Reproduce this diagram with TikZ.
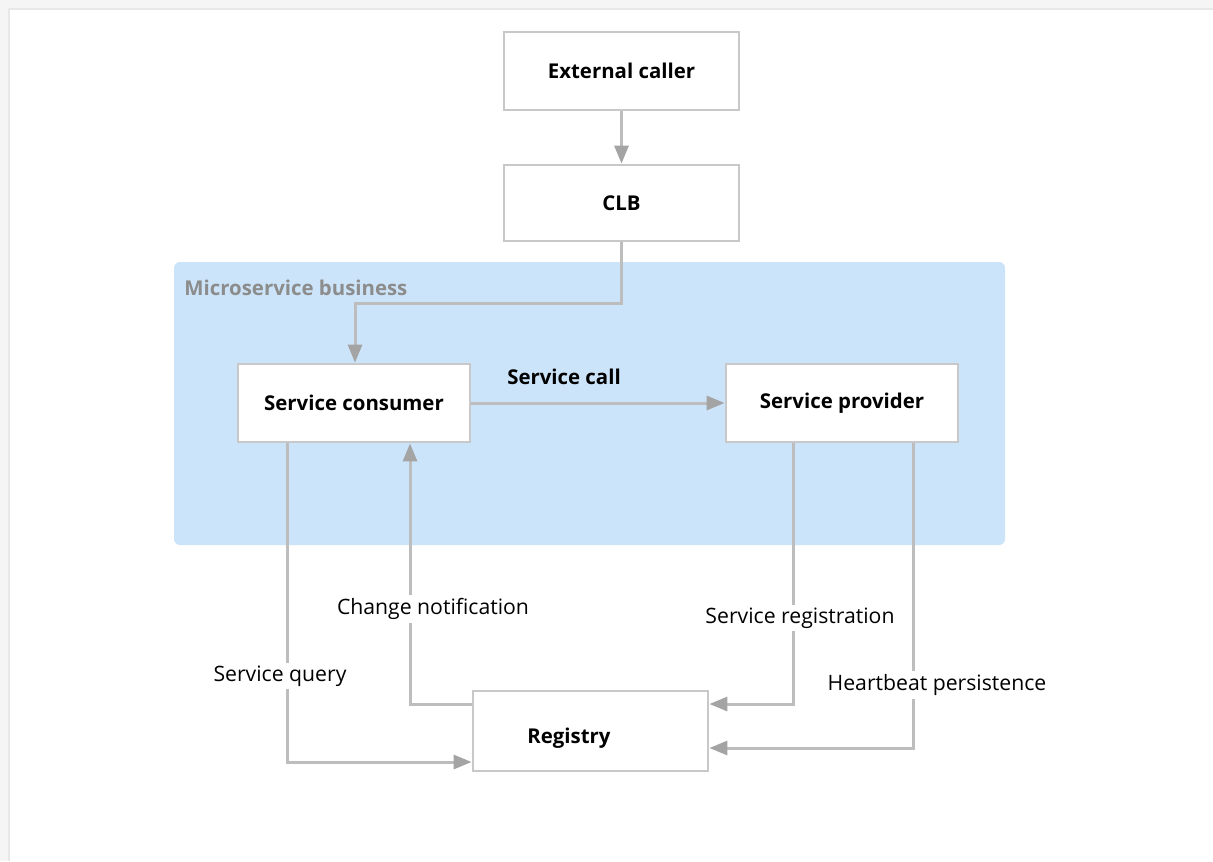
\documentclass[tikz,border=0pt]{standalone}
\usepackage{fontspec}
\setmainfont{Open Sans}
\usetikzlibrary{arrows.meta,calc}
\definecolor{boxline}{HTML}{C8C8C8}
\definecolor{conn}{HTML}{BDBDBD}
\definecolor{tip}{HTML}{A4A4A4}
\definecolor{zone}{HTML}{CCE4FA}
\definecolor{zonetext}{HTML}{8C8C8C}
\tikzset{
  box/.style={draw=boxline, line width=1.4pt, fill=white, minimum width=117.5pt, minimum height=39pt, inner sep=0pt, font=\fontsize{10.2}{12}\selectfont\bfseries},
  arr/.style={draw=conn, line width=1.5pt, -{Triangle[length=9pt,width=7pt,fill=tip,color=tip]}},
  lbl/.style={fill=white, inner sep=1.5pt, font=\fontsize{10.6}{12}\selectfont},
}
\begin{document}
\begin{tikzpicture}[x=0.5pt,y=-0.5pt]
\useasboundingbox (0,0) rectangle (1213,861);
\fill[gray!8] (0,0) rectangle (1213,861);
\fill[white] (9,9) rectangle (1213,861);
\draw[gray!18, line width=1pt] (9,861) -- (9,9) -- (1213,9);
% zone
\fill[zone, rounded corners=3pt] (174,262) rectangle (1005,545);
\node[anchor=west, text=zonetext, font=\fontsize{10.2}{12}\selectfont\bfseries, inner sep=0pt] (zlbl) at (184,288) {Microservice business};
% boxes
\node[box] (ext) at (621.5,71) {External caller};
\node[box, minimum height=38pt] (clb) at (621.5,203) {CLB};
\node[box, minimum width=116pt] (cons) at (354,403) {Service consumer};
\node[box, minimum width=116pt] (prov) at (842,403) {Service provider};
\node[box, minimum height=40pt] (reg) at (590.5,731) {};
\node[font=\fontsize{10.2}{12}\selectfont\bfseries, inner sep=0pt] (regt) at (569,738) {Registry};
% connectors
\draw[arr] (ext.south) -- (clb.north);
\draw[arr] (clb.south) -- ++(0,61) -| ($(cons.north)+(1,0)$);
\draw[arr] (cons.east) -- (prov.west);
\node[font=\fontsize{10.2}{12}\selectfont\bfseries, inner sep=0pt] (call) at (564,377) {Service call};
\draw[arr] ($(cons.south)+(-67,0)$) |- ($(reg.west)+(0,31)$);
\draw[arr] ($(reg.west)+(0,-27)$) -| ($(cons.south)+(56,0)$);
\draw[arr] ($(prov.south)+(-49,0)$) |- ($(reg.east)+(0,-27)$);
\draw[arr] ($(prov.south)+(71,0)$) |- ($(reg.east)+(0,17)$);
% labels
\node[lbl] (q) at (280,676) {Service query};
\node[lbl] (n) at (433,609) {Change notification};
\node[lbl] (r) at (800,618) {Service registration};
\node[lbl] (h) at (937,685) {Heartbeat persistence};
\end{tikzpicture}
\end{document}
